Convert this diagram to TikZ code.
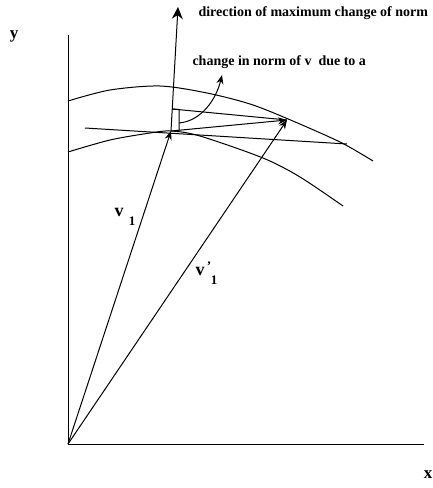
\documentclass[tikz,border=0pt]{standalone}
\usepackage{fontspec}
\setmainfont{Liberation Serif}
\usetikzlibrary{arrows.meta}
\begin{document}
\begin{tikzpicture}[x=1pt,y=-1pt, line width=1pt,
  vec/.style={-{Stealth[length=9pt,width=7pt]}},
  note/.style={inner sep=0pt, anchor=base west, font=\bfseries\fontsize{14}{15}\selectfont},
  axlbl/.style={inner sep=0pt, font=\bfseries\fontsize{17}{18}\selectfont},
  vlbl/.style={inner sep=0pt, font=\bfseries\fontsize{18}{19}\selectfont},
  sublbl/.style={inner sep=0pt, font=\bfseries\fontsize{13}{14}\selectfont}]
\useasboundingbox (0,0) rectangle (432,488);
% key points
\coordinate (O) at (68,444);
\coordinate (Ytop) at (68,35);
\coordinate (Xend) at (424,444);
\coordinate (A) at (171,131);
\coordinate (B) at (287,120);
\coordinate (N) at (178,7);
\coordinate (T1) at (85,128);
\coordinate (T2) at (347,144);
\coordinate (R1) at (172.2,109);
\coordinate (R2) at (179,109.5);
\coordinate (R3) at (179,130.5);
\coordinate (C1) at (179,123);
\coordinate (C2) at (222,75);
% axes
\draw (Ytop) -- (O) -- (Xend);
\node[axlbl] (ylab) at (14,36) {y};
\node[axlbl] (xlab) at (428,475) {x};
% level curves
\draw plot[smooth] coordinates {(68,101) (110,90) (160,86) (207,93) (250,104) (287,118.5) (340,142) (373,161)};
\draw plot[smooth] coordinates {(68,152) (110,140) (150,133) (171,131) (200,136) (263,158) (300,177) (343,206)};
% tangent line
\draw (T1) -- (T2);
% vectors
\draw[vec] (O) -- (A);
\draw[vec] (O) -- (B);
\draw[vec] (A) -- (B);
\draw[-{Stealth[length=12pt,width=11pt]}] (A) -- (N);
% component box and line
\draw (R1) -- (R2) -- (R3);
\draw (R1) -- (B);
% curved arrow
\draw[-{Stealth[length=9pt,width=7pt]}] (C1) .. controls (201,121) and (216,100) .. (C2);
% texts
\node[note] (dirlab) at (198,16) {direction of maximum change of norm};
\node[note] (chglab) at (192,65) {change in norm of v\ \ due to a};
\node[vlbl] (v1) at (119,212) {v};
\node[sublbl] (v1s) at (132,221) {1};
\node[vlbl] (v1p) at (200,271) {v};
\node[sublbl] (v1pp) at (209,266) {'};
\node[sublbl] (v1ps) at (214,280) {1};
\end{tikzpicture}
\end{document}
